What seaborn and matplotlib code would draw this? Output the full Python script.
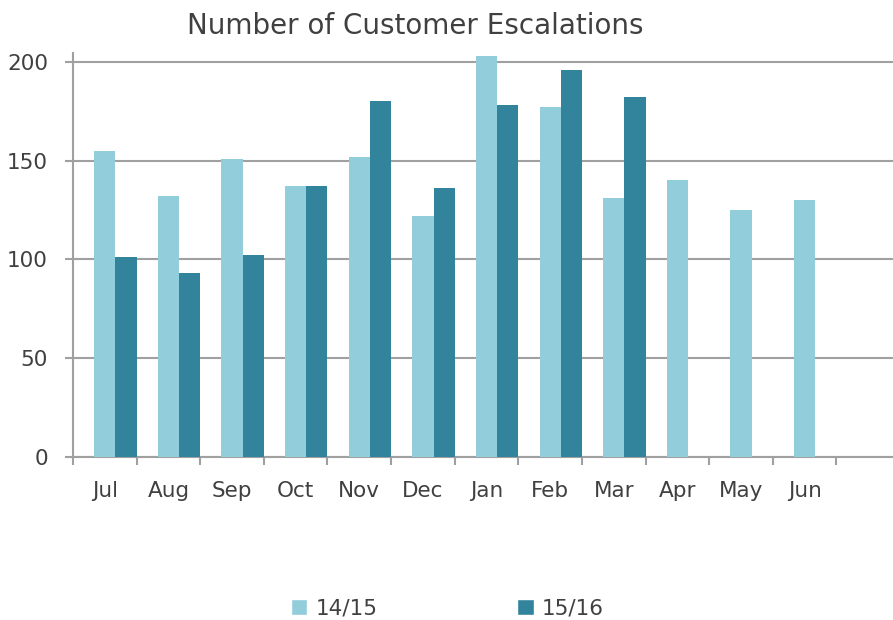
import matplotlib
matplotlib.use('Agg')
import matplotlib.pyplot as plt
import matplotlib.patches as mpatches
import numpy as np
import pandas as pd
import seaborn as sns

# values
months = ['Jul', 'Aug', 'Sep', 'Oct', 'Nov', 'Dec', 'Jan', 'Feb', 'Mar', 'Apr', 'May', 'Jun']
fy1415 = [155, 132, 151, 137, 152, 122, 203, 177, 131, 140, 125, 130]
fy1516 = [101, 93, 102, 137, 180, 136, 178, 196, 182, np.nan, np.nan, np.nan]
series = ['14/15', '15/16']
yticks = [0, 50, 100, 150, 200]

light = '#92CDDC'
dark = '#31849B'
grey = '#A0A0A0'
text_col = '#404040'

df = pd.DataFrame({
    'month': months * 2,
    'value': fy1415 + fy1516,
    'season': [series[0]] * len(months) + [series[1]] * len(months),
})

sns.set_style('white')
plt.rcParams['font.family'] = ['DejaVu Sans']

fig = plt.figure(figsize=(8.93, 6.2), dpi=100)
ax = fig.add_axes([0.0818, 0.2629, 0.9182, 0.6516])

# an empty first hue slot keeps the light bar on the category centre, like the Excel chart
sns.barplot(data=df, x='month', y='value', hue='season', order=months,
            hue_order=['pad'] + series, palette={'pad': 'white', '14/15': light, '15/16': dark},
            width=1.0, gap=0, linewidth=0, saturation=1, legend=False, ax=ax, zorder=3)

ax.set_xlim(-0.5, 12.39)
ax.set_ylim(0, 204.5)
ax.set_yticks(yticks)
ax.set_xlabel('')
ax.set_ylabel('')

ax.yaxis.grid(True, color=grey, linewidth=1.5, zorder=0)
ax.xaxis.grid(False)
for side in ['top', 'right']:
    ax.spines[side].set_visible(False)
for side in ['left', 'bottom']:
    ax.spines[side].set_color(grey)
    ax.spines[side].set_linewidth(1.5)

ax.set_xticks(np.arange(len(months)))
ax.set_xticklabels(months)
ax.set_xticks(np.arange(len(months) + 1) - 0.5, minor=True)
ax.tick_params(axis='x', which='major', length=0, pad=17, labelsize=15.5, labelcolor=text_col)
ax.tick_params(axis='x', which='minor', bottom=True, length=6, width=1.5, color=grey,
               direction='out')
ax.tick_params(axis='y', length=6, width=1.5, color=grey, direction='out', pad=12,
               labelsize=15.5, labelcolor=text_col, left=True)

fig.text(0.465, 0.958, 'Number of Customer Escalations', ha='center', va='center',
         fontsize=20, color=text_col)

handles = [mpatches.Patch(facecolor=light, label=series[0]),
           mpatches.Patch(facecolor=dark, label=series[1])]
leg = fig.legend(handles=handles, loc='center', bbox_to_anchor=(0.501, 0.019), ncol=2,
                 frameon=False, fontsize=15.5, handlelength=0.75, handleheight=0.75,
                 handletextpad=0.37, columnspacing=6.5)
for t in leg.get_texts():
    t.set_color(text_col)

fig.savefig('out.png', dpi=100)
